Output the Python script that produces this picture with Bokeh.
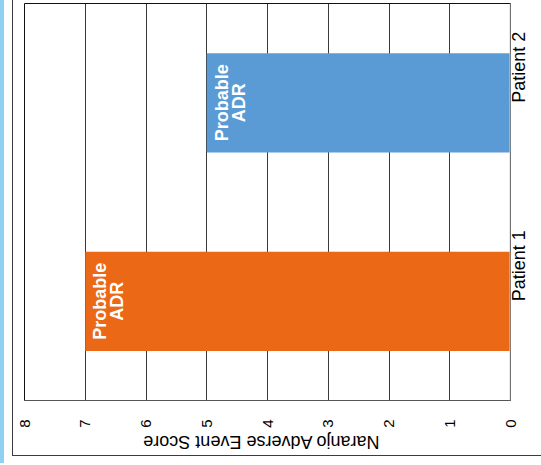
import math
from bokeh.plotting import figure
from bokeh.models import Range1d, FactorRange, FixedTicker, Span, ColumnDataSource, LinearAxis
from bokeh.core.properties import value
from bokeh.embed import file_html
from bokeh.resources import INLINE

# ---- data ----
patients = ["Patient 1", "Patient 2"]
scores = [7, 5]
bar_colors = ["#EB6817", "#5B9BD5"]
bar_labels = ["Probable\nADR", "Probable\nADR"]
score_ticks = [0, 1, 2, 3, 4, 5, 6, 7, 8]
axis_title = "Naranjo Adverse Event Score"

FONT = "Liberation Sans"
TITLE_ANCHOR = 6.06   # where the upside-down title starts along the score axis

src = ColumnDataSource(dict(patient=patients, score=scores, color=bar_colors, label=bar_labels))

p = figure(width=541, height=465,
           x_range=Range1d(8, 0), y_range=FactorRange(*patients),
           output_backend="svg", toolbar_location=None,
           x_axis_location="below", y_axis_location="right",
           min_border_left=24, min_border_top=3, min_border_right=31, min_border_bottom=65)
p.border_fill_color = None
p.background_fill_color = "white"
p.outline_line_color = "#111111"
p.outline_line_width = 1
p.styles = {
    "background-color": "white",
    "background-image": "linear-gradient(#3c3c3c,#3c3c3c), linear-gradient(#3c3c3c,#3c3c3c), linear-gradient(#8fd1f2,#8fd1f2)",
    "background-position": "12px 0px, 12px 455px, 0px 0px",
    "background-size": "1px 456px, 529px 1px, 4px 463px",
    "background-repeat": "no-repeat",
}

p.hbar(y="patient", left=0, right="score", height=0.5, source=src,
       fill_color="color", line_color=None)

p.text(x="score", y="patient", text="label", source=src,
       angle=math.pi / 2, text_align="center", text_baseline="top",
       x_offset=5, text_color="white", text_font=value(FONT),
       text_font_style="bold", text_font_size="18px", text_line_height=0.85)

p.add_layout(Span(location=0, dimension="height", line_color="#d0d4d8", line_width=2))

# grid
p.xgrid.ticker = FixedTicker(ticks=score_ticks)
p.xgrid.grid_line_color = "#3a3a3a"
p.xgrid.grid_line_width = 1
p.ygrid.grid_line_color = None

# value axis (bottom)
xa = p.xaxis[0]
xa.ticker = FixedTicker(ticks=score_ticks)
xa.major_tick_line_color = None
xa.minor_tick_line_color = None
xa.major_tick_out = 0
xa.minor_tick_out = 0
xa.axis_line_color = "#555555"
xa.major_label_orientation = math.pi / 2
xa.major_label_standoff = 19
xa.major_label_text_font = FONT
xa.major_label_text_font_size = "15px"
xa.major_label_text_color = "black"

# upside-down axis title, drawn as the single label of a second bottom axis
ta = LinearAxis(ticker=FixedTicker(ticks=[TITLE_ANCHOR]),
                major_label_overrides={TITLE_ANCHOR: axis_title},
                major_label_orientation=math.pi, major_label_standoff=11,
                axis_line_color=None, major_tick_line_color=None, minor_tick_line_color=None,
                major_tick_out=0, minor_tick_out=0,
                major_label_text_font=FONT, major_label_text_font_size="18px",
                major_label_text_color="black")
p.add_layout(ta, "below")

# category axis (right), labels reading bottom to top
ya = p.yaxis[0]
ya.major_tick_line_color = None
ya.minor_tick_line_color = None
ya.major_tick_out = 0
ya.minor_tick_out = 0
ya.axis_line_color = None
ya.major_label_orientation = math.pi / 2
ya.major_label_standoff = 8
ya.major_label_text_font = FONT
ya.major_label_text_font_size = "18px"
ya.major_label_text_color = "black"

open("out.html", "w").write(file_html(p, INLINE))
